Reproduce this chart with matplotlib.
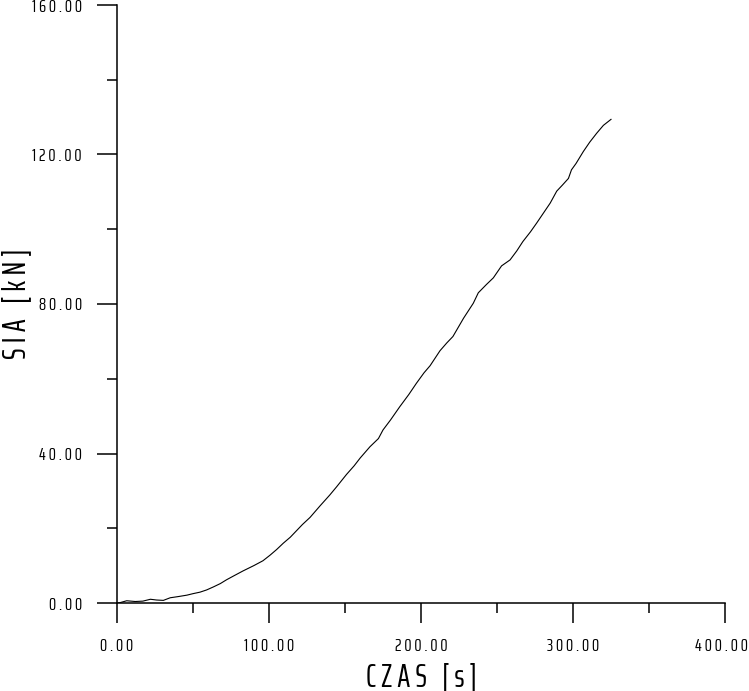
import matplotlib
matplotlib.use("Agg")
import matplotlib.pyplot as plt
import matplotlib.transforms as mtransforms
from matplotlib.ticker import MultipleLocator, FixedLocator, FixedFormatter

# force vs time
czas = [0, 2, 6.4, 12, 17, 22, 26, 30.5, 35, 40, 46, 50, 54.6, 59, 63.4, 68, 72, 77, 83,
        90, 96, 100.7, 105, 109.4, 114, 118, 122, 127, 133.6, 140, 144.5, 151, 156, 160,
        166.4, 172, 175, 180, 186, 192, 197, 202, 206, 212.5, 217, 221, 228, 234.4,
        237.7, 243, 247.6, 253, 258.6, 263, 267, 272, 276, 280.5, 285, 289.3, 293,
        297, 299, 302, 306.8, 311, 315.6, 320, 325]
sila = [0, 0.1, 0.6, 0.4, 0.5, 1.0, 0.8, 0.7, 1.4, 1.7, 2.1, 2.5, 2.9, 3.5, 4.3, 5.2, 6.2,
        7.3, 8.6, 10.0, 11.3, 12.8, 14.3, 16.0, 17.6, 19.3, 21.0, 22.9, 26.0, 28.9,
        31.1, 34.4, 36.7, 38.8, 41.8, 44.0, 46.3, 49.0, 52.5, 55.8, 58.8, 61.6, 63.5,
        67.5, 69.6, 71.3, 76.2, 80.2, 83.0, 85.2, 87.0, 90.2, 91.8, 94.2, 96.7, 99.3,
        101.6, 104.3, 107.0, 110.2, 111.8, 113.6, 115.9, 117.6, 120.8, 123.3, 125.7,
        127.8, 129.4]

x_major = [0, 100, 200, 300, 400]
y_major = [0, 40, 80, 120, 160]
x_labels = ["0 . 0 0", "1 0 0 . 0 0", "2 0 0 . 0 0", "3 0 0 . 0 0", "4 0 0 . 0 0"]
y_labels = ["0 . 0 0", "4 0 . 0 0", "8 0 . 0 0", "1 2 0 . 0 0", "1 6 0 . 0 0"]

plt.rcParams['font.family'] = ['Saira ExtraCondensed', 'DejaVu Sans']

fig = plt.figure(figsize=(7.49, 6.91), dpi=100)
ax = fig.add_axes([117 / 749, 88 / 691, 608 / 749, 598 / 691])

ax.plot(czas, sila, color='black', linewidth=0.8)

ax.set_xlim(0, 400)
ax.set_ylim(0, 160)
ax.spines['top'].set_visible(False)
ax.spines['right'].set_visible(False)
ax.spines['left'].set_linewidth(1.1)
ax.spines['bottom'].set_linewidth(1.1)

ax.xaxis.set_major_locator(FixedLocator(x_major))
ax.xaxis.set_major_formatter(FixedFormatter(x_labels))
ax.yaxis.set_major_locator(FixedLocator(y_major))
ax.yaxis.set_major_formatter(FixedFormatter(y_labels))
ax.xaxis.set_minor_locator(MultipleLocator(50))
ax.yaxis.set_minor_locator(MultipleLocator(20))

ax.tick_params(which='major', direction='out', length=14.4, width=1.1,
               labelsize=13, color='black')
ax.tick_params(which='minor', direction='out', length=7.2, width=1.1, color='black')
ax.tick_params(axis='x', which='major', pad=11)
ax.tick_params(axis='y', which='major', pad=11)

# last x label sits a little left of its tick, flush with the right edge
last = ax.xaxis.get_major_ticks()[-1].label1
last.set_transform(last.get_transform() + mtransforms.ScaledTranslation(-4 / 100, 0, fig.dpi_scale_trans))

ax.set_xlabel("C Z A S   [ s ]", fontsize=23, va='center')
ax.xaxis.set_label_coords(0.5, -0.124)
ax.set_ylabel("S I A   [ k N ]", fontsize=23, va='center')
ax.yaxis.set_label_coords(-0.166, 0.5)

fig.savefig("out.png", dpi=100, facecolor='white')
